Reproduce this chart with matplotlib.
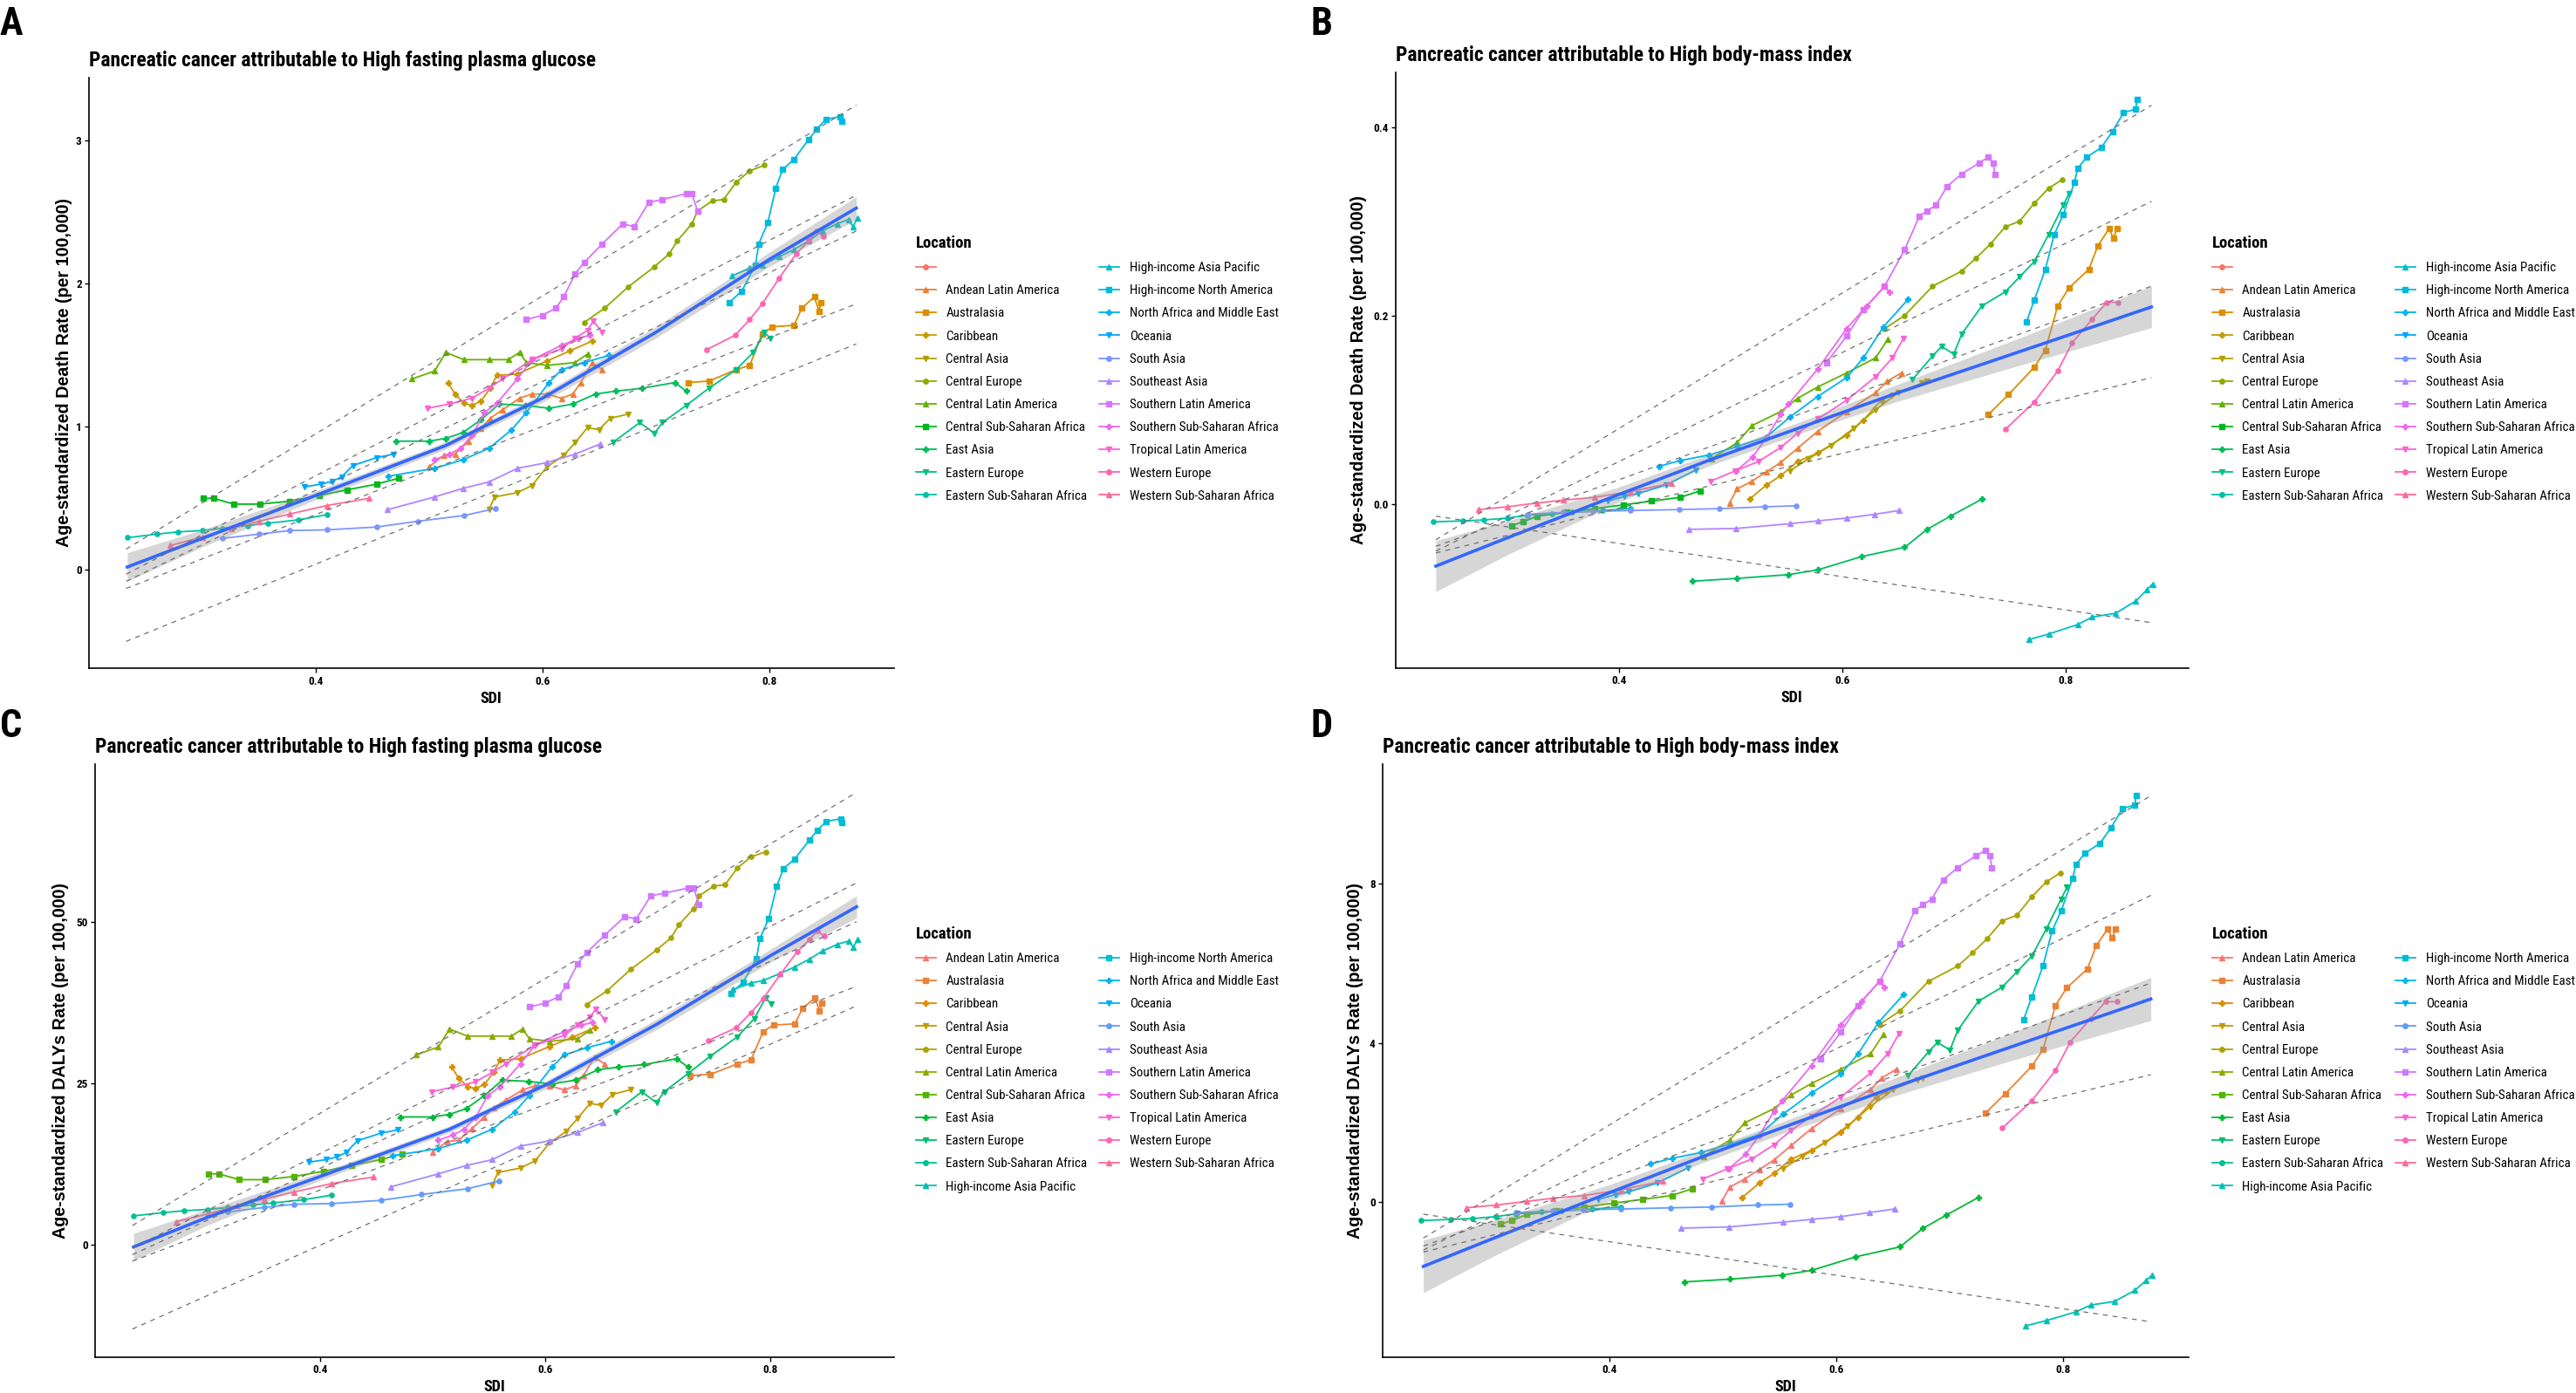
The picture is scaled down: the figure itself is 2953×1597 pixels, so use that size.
import numpy as np
import matplotlib
matplotlib.use("Agg")
import matplotlib.pyplot as plt
import matplotlib.font_manager as fm
from matplotlib.lines import Line2D

# ---- data (SDI, value) ----
regions = ["Andean Latin America", "Australasia", "Caribbean", "Central Asia", "Central Europe",
           "Central Latin America", "Central Sub-Saharan Africa", "East Asia", "Eastern Europe",
           "Eastern Sub-Saharan Africa", "High-income Asia Pacific", "High-income North America",
           "North Africa and Middle East", "Oceania", "South Asia", "Southeast Asia",
           "Southern Latin America", "Southern Sub-Saharan Africa", "Tropical Latin America",
           "Western Europe", "Western Sub-Saharan Africa"]

death_fpg = {
    "Andean Latin America": ([0.500, 0.513, 0.523, 0.535, 0.546, 0.554, 0.565, 0.580, 0.591, 0.604, 0.617, 0.627, 0.634, 0.644, 0.653],
                             [0.72, 0.80, 0.81, 0.90, 0.99, 1.06, 1.12, 1.20, 1.23, 1.23, 1.20, 1.23, 1.31, 1.45, 1.40]),
    "Australasia": ([0.729, 0.747, 0.771, 0.783, 0.794, 0.803, 0.822, 0.829, 0.840, 0.844, 0.846],
                    [1.31, 1.32, 1.40, 1.43, 1.65, 1.70, 1.71, 1.83, 1.91, 1.81, 1.87]),
    "Caribbean": ([0.517, 0.523, 0.531, 0.538, 0.546, 0.554, 0.560, 0.578, 0.604, 0.624, 0.644],
                  [1.31, 1.23, 1.165, 1.15, 1.18, 1.27, 1.36, 1.37, 1.46, 1.53, 1.60]),
    "Central Asia": ([0.553, 0.558, 0.578, 0.591, 0.604, 0.619, 0.629, 0.640, 0.650, 0.660, 0.676],
                     [0.42, 0.51, 0.54, 0.59, 0.72, 0.80, 0.89, 0.995, 0.98, 1.06, 1.09]),
    "Central Europe": ([0.637, 0.655, 0.676, 0.699, 0.712, 0.719, 0.732, 0.737, 0.750, 0.760, 0.771, 0.783, 0.796],
                       [1.73, 1.83, 1.98, 2.12, 2.21, 2.30, 2.42, 2.51, 2.58, 2.59, 2.71, 2.79, 2.83]),
    "Central Latin America": ([0.485, 0.505, 0.515, 0.531, 0.553, 0.570, 0.580, 0.586, 0.604, 0.629, 0.640],
                              [1.335, 1.39, 1.52, 1.47, 1.47, 1.47, 1.52, 1.45, 1.43, 1.45, 1.51]),
    "Central Sub-Saharan Africa": ([0.301, 0.310, 0.328, 0.351, 0.377, 0.403, 0.428, 0.454, 0.473],
                                   [0.50, 0.50, 0.46, 0.46, 0.48, 0.52, 0.56, 0.60, 0.64]),
    "East Asia": ([0.471, 0.500, 0.515, 0.530, 0.546, 0.562, 0.585, 0.606, 0.627, 0.647, 0.665, 0.688, 0.717, 0.727],
                  [0.90, 0.90, 0.92, 0.96, 1.05, 1.16, 1.15, 1.13, 1.16, 1.23, 1.25, 1.27, 1.31, 1.25]),
    "Eastern Europe": ([0.663, 0.686, 0.699, 0.706, 0.727, 0.747, 0.771, 0.786, 0.796, 0.801],
                       [0.895, 1.03, 0.955, 1.03, 1.15, 1.27, 1.40, 1.52, 1.66, 1.62]),
    "Eastern Sub-Saharan Africa": ([0.234, 0.260, 0.279, 0.300, 0.318, 0.340, 0.358, 0.385, 0.410],
                                   [0.225, 0.25, 0.266, 0.275, 0.29, 0.31, 0.326, 0.35, 0.386]),
    "High-income Asia Pacific": ([0.767, 0.783, 0.794, 0.809, 0.822, 0.835, 0.847, 0.860, 0.870, 0.874, 0.878],
                                 [2.055, 2.11, 2.13, 2.19, 2.24, 2.30, 2.37, 2.42, 2.45, 2.40, 2.46]),
    "High-income North America": ([0.765, 0.776, 0.788, 0.791, 0.799, 0.806, 0.812, 0.822, 0.835, 0.842, 0.850, 0.863, 0.864],
                                  [1.87, 1.95, 2.13, 2.28, 2.43, 2.67, 2.80, 2.87, 3.01, 3.08, 3.15, 3.17, 3.14]),
    "North Africa and Middle East": ([0.464, 0.505, 0.530, 0.553, 0.573, 0.586, 0.606, 0.617, 0.637, 0.659],
                                     [0.655, 0.71, 0.77, 0.85, 0.98, 1.10, 1.31, 1.40, 1.45, 1.50]),
    "Oceania": ([0.390, 0.405, 0.415, 0.423, 0.433, 0.454, 0.469],
                [0.58, 0.60, 0.62, 0.65, 0.73, 0.785, 0.81]),
    "South Asia": ([0.318, 0.350, 0.377, 0.410, 0.454, 0.490, 0.531, 0.559],
                   [0.22, 0.25, 0.275, 0.28, 0.30, 0.34, 0.38, 0.43]),
    "Southeast Asia": ([0.463, 0.505, 0.530, 0.553, 0.578, 0.604, 0.629, 0.651],
                       [0.42, 0.51, 0.57, 0.615, 0.71, 0.75, 0.81, 0.88]),
    "Southern Latin America": ([0.586, 0.600, 0.612, 0.619, 0.629, 0.637, 0.653, 0.671, 0.681, 0.694, 0.706, 0.727, 0.732, 0.737],
                               [1.75, 1.78, 1.83, 1.91, 2.07, 2.15, 2.28, 2.42, 2.40, 2.57, 2.59, 2.63, 2.63, 2.51]),
    "Southern Sub-Saharan Africa": ([0.505, 0.518, 0.528, 0.538, 0.549, 0.560, 0.578, 0.591, 0.617, 0.632, 0.642],
                                    [0.77, 0.81, 0.85, 0.94, 1.10, 1.165, 1.335, 1.47, 1.57, 1.62, 1.64]),
    "Tropical Latin America": ([0.499, 0.518, 0.538, 0.553, 0.565, 0.591, 0.617, 0.629, 0.640, 0.645, 0.653],
                               [1.13, 1.16, 1.20, 1.27, 1.335, 1.47, 1.545, 1.62, 1.675, 1.74, 1.66]),
    "Western Europe": ([0.745, 0.770, 0.783, 0.794, 0.809, 0.824, 0.835, 0.842, 0.848],
                       [1.54, 1.64, 1.75, 1.86, 2.04, 2.21, 2.30, 2.37, 2.33]),
    "Western Sub-Saharan Africa": ([0.272, 0.300, 0.326, 0.350, 0.377, 0.410, 0.447],
                                   [0.17, 0.23, 0.29, 0.34, 0.39, 0.45, 0.50]),
}

daly_fpg = {
    "Andean Latin America": ([0.500, 0.513, 0.523, 0.535, 0.546, 0.554, 0.565, 0.580, 0.591, 0.604, 0.617, 0.627, 0.634, 0.644, 0.653],
                             [14.4, 16.0, 16.2, 18.0, 19.8, 21.2, 22.4, 24.0, 24.6, 24.6, 24.0, 24.6, 26.2, 29.0, 28.0]),
    "Australasia": ([0.729, 0.747, 0.771, 0.783, 0.794, 0.803, 0.822, 0.829, 0.840, 0.844, 0.846],
                    [26.2, 26.4, 28.0, 28.6, 33.0, 34.0, 34.2, 36.6, 38.2, 36.2, 37.4]),
    "Caribbean": ([0.517, 0.523, 0.531, 0.538, 0.546, 0.554, 0.560, 0.578, 0.604, 0.624, 0.644],
                  [27.5, 25.8, 24.5, 24.2, 24.8, 26.7, 28.6, 28.8, 30.7, 32.1, 33.6]),
    "Central Asia": ([0.553, 0.558, 0.578, 0.591, 0.604, 0.619, 0.629, 0.640, 0.650, 0.660, 0.676],
                     [9.2, 11.2, 11.9, 13.0, 15.8, 17.6, 19.6, 21.9, 21.6, 23.3, 24.0]),
    "Central Europe": ([0.637, 0.655, 0.676, 0.699, 0.712, 0.719, 0.732, 0.737, 0.750, 0.760, 0.771, 0.783, 0.796],
                       [37.2, 39.3, 42.6, 45.6, 47.5, 49.5, 52.0, 54.0, 55.5, 55.7, 58.3, 60.0, 60.8]),
    "Central Latin America": ([0.485, 0.505, 0.515, 0.531, 0.553, 0.570, 0.580, 0.586, 0.604, 0.629, 0.640],
                              [29.4, 30.6, 33.4, 32.3, 32.3, 32.3, 33.4, 31.9, 31.5, 31.9, 33.2]),
    "Central Sub-Saharan Africa": ([0.301, 0.310, 0.328, 0.351, 0.377, 0.403, 0.428, 0.454, 0.473],
                                   [11.0, 11.0, 10.1, 10.1, 10.6, 11.4, 12.3, 13.2, 14.1]),
    "East Asia": ([0.471, 0.500, 0.515, 0.530, 0.546, 0.562, 0.585, 0.606, 0.627, 0.647, 0.665, 0.688, 0.717, 0.727],
                  [19.8, 19.8, 20.2, 21.1, 23.1, 25.5, 25.3, 24.9, 25.5, 27.1, 27.5, 27.9, 28.8, 27.5]),
    "Eastern Europe": ([0.663, 0.686, 0.699, 0.706, 0.727, 0.747, 0.771, 0.786, 0.796, 0.801],
                       [20.6, 23.7, 22.0, 23.7, 26.5, 29.2, 32.2, 35.0, 38.2, 37.3]),
    "Eastern Sub-Saharan Africa": ([0.234, 0.260, 0.279, 0.300, 0.318, 0.340, 0.358, 0.385, 0.410],
                                   [4.5, 5.0, 5.3, 5.5, 5.8, 6.2, 6.5, 7.0, 7.7]),
    "High-income Asia Pacific": ([0.767, 0.783, 0.794, 0.809, 0.822, 0.835, 0.847, 0.860, 0.870, 0.874, 0.878],
                                 [39.5, 40.5, 40.9, 42.0, 43.0, 44.2, 45.5, 46.5, 47.0, 46.1, 47.2]),
    "High-income North America": ([0.765, 0.776, 0.788, 0.791, 0.799, 0.806, 0.812, 0.822, 0.835, 0.842, 0.850, 0.863, 0.864],
                                  [38.9, 40.6, 44.3, 47.4, 50.5, 55.5, 58.2, 59.7, 62.6, 64.1, 65.5, 65.9, 65.3]),
    "North Africa and Middle East": ([0.464, 0.505, 0.530, 0.553, 0.573, 0.586, 0.606, 0.617, 0.637, 0.659],
                                     [13.8, 14.9, 16.2, 17.9, 20.6, 23.1, 27.5, 29.4, 30.5, 31.5]),
    "Oceania": ([0.390, 0.405, 0.415, 0.423, 0.433, 0.454, 0.469],
                [12.8, 13.2, 13.6, 14.3, 16.1, 17.3, 17.8]),
    "South Asia": ([0.318, 0.350, 0.377, 0.410, 0.454, 0.490, 0.531, 0.559],
                   [5.1, 5.8, 6.3, 6.4, 6.9, 7.8, 8.7, 9.9]),
    "Southeast Asia": ([0.463, 0.505, 0.530, 0.553, 0.578, 0.604, 0.629, 0.651],
                       [9.0, 11.0, 12.3, 13.2, 15.3, 16.1, 17.4, 18.9]),
    "Southern Latin America": ([0.586, 0.600, 0.612, 0.619, 0.629, 0.637, 0.653, 0.671, 0.681, 0.694, 0.706, 0.727, 0.732, 0.737],
                               [36.8, 37.4, 38.4, 40.1, 43.5, 45.2, 47.9, 50.8, 50.4, 54.0, 54.4, 55.2, 55.2, 52.7]),
    "Southern Sub-Saharan Africa": ([0.505, 0.518, 0.528, 0.538, 0.549, 0.560, 0.578, 0.591, 0.617, 0.632, 0.642],
                                    [16.2, 17.0, 17.9, 19.7, 23.1, 24.5, 28.0, 30.9, 33.0, 34.0, 34.4]),
    "Tropical Latin America": ([0.499, 0.518, 0.538, 0.553, 0.565, 0.591, 0.617, 0.629, 0.640, 0.645, 0.653],
                               [23.7, 24.4, 25.2, 26.7, 28.0, 30.9, 32.4, 34.0, 35.2, 36.5, 34.9]),
    "Western Europe": ([0.745, 0.770, 0.783, 0.794, 0.809, 0.824, 0.835, 0.842, 0.848],
                       [31.6, 33.6, 35.9, 38.1, 41.8, 45.3, 47.2, 48.6, 47.8]),
    "Western Sub-Saharan Africa": ([0.272, 0.300, 0.326, 0.350, 0.377, 0.410, 0.447],
                                   [3.6, 4.8, 6.1, 7.1, 8.2, 9.5, 10.5]),
}

death_bmi = {
    "Andean Latin America": ([0.499, 0.506, 0.519, 0.532, 0.545, 0.560, 0.578, 0.604, 0.630, 0.640, 0.653],
                             [0.001, 0.016, 0.024, 0.034, 0.044, 0.059, 0.077, 0.098, 0.118, 0.130, 0.139]),
    "Australasia": ([0.731, 0.749, 0.772, 0.782, 0.793, 0.803, 0.821, 0.829, 0.839, 0.843, 0.846],
                    [0.095, 0.116, 0.145, 0.163, 0.210, 0.229, 0.249, 0.274, 0.292, 0.282, 0.292]),
    "Caribbean": ([0.517, 0.532, 0.545, 0.560, 0.578, 0.604, 0.619, 0.635, 0.644],
                  [0.005, 0.020, 0.030, 0.045, 0.054, 0.073, 0.089, 0.110, 0.115]),
    "Central Asia": ([0.553, 0.570, 0.590, 0.610, 0.630, 0.650, 0.671, 0.676],
                     [0.035, 0.048, 0.062, 0.080, 0.100, 0.118, 0.128, 0.130]),
    "Central Europe": ([0.638, 0.656, 0.681, 0.707, 0.720, 0.733, 0.746, 0.759, 0.772, 0.785, 0.797],
                       [0.186, 0.200, 0.231, 0.247, 0.261, 0.276, 0.294, 0.300, 0.319, 0.335, 0.344]),
    "Central Latin America": ([0.483, 0.506, 0.519, 0.545, 0.560, 0.578, 0.604, 0.630, 0.641],
                              [0.048, 0.065, 0.083, 0.098, 0.112, 0.124, 0.139, 0.155, 0.175]),
    "Central Sub-Saharan Africa": ([0.304, 0.314, 0.327, 0.353, 0.378, 0.404, 0.429, 0.455, 0.473],
                                   [-0.023, -0.019, -0.013, -0.009, -0.005, -0.001, 0.003, 0.007, 0.014]),
    "East Asia": ([0.466, 0.506, 0.552, 0.578, 0.617, 0.656, 0.676, 0.697, 0.725],
                  [-0.082, -0.079, -0.075, -0.070, -0.056, -0.046, -0.027, -0.013, 0.005]),
    "Eastern Europe": ([0.663, 0.681, 0.689, 0.700, 0.707, 0.725, 0.746, 0.759, 0.772, 0.785, 0.798, 0.803],
                       [0.132, 0.157, 0.167, 0.159, 0.180, 0.210, 0.225, 0.241, 0.257, 0.286, 0.317, 0.329]),
    "Eastern Sub-Saharan Africa": ([0.234, 0.260, 0.279, 0.300, 0.318, 0.340, 0.358, 0.385, 0.410],
                                   [-0.019, -0.018, -0.017, -0.015, -0.012, -0.010, -0.009, -0.007, -0.005]),
    "High-income Asia Pacific": ([0.767, 0.785, 0.811, 0.824, 0.845, 0.863, 0.873, 0.878],
                                 [-0.144, -0.138, -0.128, -0.120, -0.116, -0.103, -0.091, -0.085]),
    "High-income North America": ([0.765, 0.772, 0.782, 0.790, 0.798, 0.808, 0.811, 0.819, 0.832, 0.842, 0.852, 0.863, 0.864],
                                  [0.193, 0.216, 0.249, 0.286, 0.307, 0.341, 0.356, 0.368, 0.378, 0.395, 0.415, 0.419, 0.429]),
    "North Africa and Middle East": ([0.436, 0.455, 0.481, 0.506, 0.532, 0.553, 0.578, 0.604, 0.619, 0.637, 0.659],
                                     [0.040, 0.046, 0.052, 0.061, 0.071, 0.092, 0.114, 0.134, 0.155, 0.188, 0.217]),
    "Oceania": ([0.390, 0.405, 0.417, 0.442, 0.469],
                [0.003, 0.008, 0.011, 0.020, 0.036]),
    "South Asia": ([0.318, 0.350, 0.377, 0.410, 0.454, 0.490, 0.531, 0.559],
                   [-0.011, -0.009, -0.008, -0.007, -0.006, -0.005, -0.003, -0.002]),
    "Southeast Asia": ([0.463, 0.505, 0.553, 0.578, 0.604, 0.629, 0.651],
                       [-0.027, -0.026, -0.021, -0.018, -0.015, -0.011, -0.007]),
    "Southern Latin America": ([0.586, 0.604, 0.619, 0.638, 0.656, 0.669, 0.676, 0.684, 0.694, 0.707, 0.723, 0.731, 0.735, 0.737],
                               [0.150, 0.178, 0.206, 0.231, 0.270, 0.305, 0.311, 0.317, 0.337, 0.350, 0.362, 0.368, 0.362, 0.350]),
    "Southern Sub-Saharan Africa": ([0.505, 0.520, 0.532, 0.545, 0.552, 0.578, 0.604, 0.622, 0.638, 0.642],
                                    [0.035, 0.050, 0.070, 0.095, 0.106, 0.143, 0.186, 0.210, 0.231, 0.225]),
    "Tropical Latin America": ([0.482, 0.504, 0.525, 0.545, 0.560, 0.578, 0.604, 0.630, 0.645, 0.655],
                               [0.024, 0.035, 0.045, 0.060, 0.075, 0.090, 0.110, 0.135, 0.155, 0.176]),
    "Western Europe": ([0.746, 0.772, 0.793, 0.806, 0.824, 0.837, 0.847],
                       [0.079, 0.108, 0.141, 0.171, 0.196, 0.214, 0.214]),
    "Western Sub-Saharan Africa": ([0.274, 0.300, 0.327, 0.350, 0.378, 0.410, 0.447],
                                   [-0.006, -0.003, 0.001, 0.004, 0.007, 0.013, 0.022]),
}

daly_bmi = {
    "Andean Latin America": ([0.499, 0.506, 0.519, 0.532, 0.545, 0.560, 0.578, 0.604, 0.630, 0.640, 0.653],
                             [0.02, 0.38, 0.58, 0.82, 1.06, 1.42, 1.85, 2.35, 2.83, 3.12, 3.34]),
    "Australasia": ([0.731, 0.749, 0.772, 0.782, 0.793, 0.803, 0.821, 0.829, 0.839, 0.843, 0.846],
                    [2.23, 2.73, 3.41, 3.83, 4.94, 5.38, 5.85, 6.44, 6.86, 6.63, 6.86]),
    "Caribbean": ([0.517, 0.532, 0.545, 0.560, 0.578, 0.604, 0.619, 0.635, 0.644],
                  [0.12, 0.48, 0.72, 1.08, 1.30, 1.75, 2.14, 2.64, 2.76]),
    "Central Asia": ([0.553, 0.570, 0.590, 0.610, 0.630, 0.650, 0.671, 0.676],
                     [0.84, 1.15, 1.49, 1.92, 2.40, 2.83, 3.07, 3.12]),
    "Central Europe": ([0.638, 0.656, 0.681, 0.707, 0.720, 0.733, 0.746, 0.759, 0.772, 0.785, 0.797],
                       [4.46, 4.80, 5.54, 5.93, 6.26, 6.62, 7.06, 7.20, 7.66, 8.04, 8.26]),
    "Central Latin America": ([0.483, 0.506, 0.519, 0.545, 0.560, 0.578, 0.604, 0.630, 0.641],
                              [1.15, 1.56, 1.99, 2.35, 2.69, 2.98, 3.34, 3.72, 4.20]),
    "Central Sub-Saharan Africa": ([0.304, 0.314, 0.327, 0.353, 0.378, 0.404, 0.429, 0.455, 0.473],
                                   [-0.55, -0.46, -0.31, -0.22, -0.12, -0.02, 0.07, 0.17, 0.34]),
    "East Asia": ([0.466, 0.506, 0.552, 0.578, 0.617, 0.656, 0.676, 0.697, 0.725],
                  [-2.00, -1.93, -1.83, -1.71, -1.37, -1.12, -0.66, -0.32, 0.12]),
    "Eastern Europe": ([0.663, 0.681, 0.689, 0.700, 0.707, 0.725, 0.746, 0.759, 0.772, 0.785, 0.798, 0.803],
                       [3.17, 3.77, 4.01, 3.82, 4.32, 5.04, 5.40, 5.78, 6.17, 6.86, 7.61, 7.90]),
    "Eastern Sub-Saharan Africa": ([0.234, 0.260, 0.279, 0.300, 0.318, 0.340, 0.358, 0.385, 0.410],
                                   [-0.46, -0.43, -0.41, -0.36, -0.29, -0.24, -0.22, -0.17, -0.12]),
    "High-income Asia Pacific": ([0.767, 0.785, 0.811, 0.824, 0.845, 0.863, 0.873, 0.878],
                                 [-3.10, -2.97, -2.75, -2.58, -2.49, -2.21, -1.96, -1.83]),
    "High-income North America": ([0.765, 0.772, 0.782, 0.790, 0.798, 0.808, 0.811, 0.819, 0.832, 0.842, 0.852, 0.863, 0.864],
                                  [4.59, 5.14, 5.93, 6.81, 7.31, 8.12, 8.47, 8.76, 9.00, 9.40, 9.88, 9.97, 10.21]),
    "North Africa and Middle East": ([0.436, 0.455, 0.481, 0.506, 0.532, 0.553, 0.578, 0.604, 0.619, 0.637, 0.659],
                                     [0.96, 1.10, 1.25, 1.46, 1.70, 2.21, 2.74, 3.22, 3.72, 4.51, 5.21]),
    "Oceania": ([0.390, 0.405, 0.417, 0.442, 0.469],
                [0.07, 0.19, 0.26, 0.48, 0.86]),
    "South Asia": ([0.318, 0.350, 0.377, 0.410, 0.454, 0.490, 0.531, 0.559],
                   [-0.26, -0.22, -0.19, -0.17, -0.14, -0.12, -0.07, -0.05]),
    "Southeast Asia": ([0.463, 0.505, 0.553, 0.578, 0.604, 0.629, 0.651],
                       [-0.65, -0.62, -0.50, -0.43, -0.36, -0.26, -0.17]),
    "Southern Latin America": ([0.586, 0.604, 0.619, 0.638, 0.656, 0.669, 0.676, 0.684, 0.694, 0.707, 0.723, 0.731, 0.735, 0.737],
                               [3.60, 4.27, 4.94, 5.54, 6.48, 7.32, 7.46, 7.61, 8.09, 8.40, 8.69, 8.83, 8.69, 8.40]),
    "Southern Sub-Saharan Africa": ([0.505, 0.520, 0.532, 0.545, 0.552, 0.578, 0.604, 0.622, 0.638, 0.642],
                                    [0.84, 1.20, 1.68, 2.28, 2.54, 3.43, 4.46, 5.04, 5.54, 5.40]),
    "Tropical Latin America": ([0.482, 0.504, 0.525, 0.545, 0.560, 0.578, 0.604, 0.630, 0.645, 0.655],
                               [0.58, 0.84, 1.08, 1.44, 1.80, 2.16, 2.64, 3.24, 3.72, 4.22]),
    "Western Europe": ([0.746, 0.772, 0.793, 0.806, 0.824, 0.837, 0.847],
                       [1.86, 2.54, 3.31, 4.02, 4.61, 5.03, 5.03]),
    "Western Sub-Saharan Africa": ([0.274, 0.300, 0.327, 0.350, 0.378, 0.410, 0.447],
                                   [-0.14, -0.07, 0.02, 0.10, 0.17, 0.31, 0.53]),
}

# smoothed fit (blue) and its band half width
fit_x_fpg = [0.234, 0.30, 0.40, 0.515, 0.553, 0.60, 0.70, 0.80, 0.877]
fit_death_fpg = [0.02, 0.22, 0.52, 0.87, 1.02, 1.20, 1.66, 2.17, 2.53]
se_death_fpg = [0.10, 0.06, 0.03, 0.025, 0.025, 0.03, 0.04, 0.05, 0.08]
fit_daly_fpg = [-0.3, 4.3, 10.6, 17.9, 21.0, 24.7, 34.2, 44.7, 52.3]
se_daly_fpg = [2.1, 1.2, 0.6, 0.5, 0.5, 0.6, 0.8, 1.0, 1.7]

fit_x_bmi = [0.236, 0.30, 0.40, 0.48, 0.56, 0.65, 0.75, 0.877]
fit_death_bmi = [-0.066, -0.036, 0.01, 0.046, 0.08, 0.118, 0.158, 0.209]
se_death_bmi = [0.027, 0.018, 0.008, 0.006, 0.006, 0.009, 0.014, 0.022]
fit_daly_bmi = [-1.61, -0.88, 0.24, 1.12, 1.95, 2.88, 3.86, 5.10]
se_daly_bmi = [0.66, 0.44, 0.20, 0.15, 0.15, 0.22, 0.34, 0.54]

# grey dashed lines: (x0, y0, x1, y1)
dash_death_fpg = [(0.233, 0.145, 0.877, 3.25), (0.233, -0.03, 0.877, 2.62), (0.233, -0.08, 0.877, 2.37),
                  (0.233, -0.13, 0.877, 1.86), (0.233, -0.50, 0.877, 1.58)]
dash_daly_fpg = [(0.233, 3.0, 0.877, 70.0), (0.233, -0.5, 0.877, 56.0), (0.233, -1.5, 0.877, 50.0),
                 (0.233, -2.5, 0.877, 40.0), (0.233, -13.0, 0.877, 37.0)]
dash_death_bmi = [(0.236, -0.038, 0.877, 0.423), (0.236, -0.05, 0.877, 0.321), (0.236, -0.045, 0.877, 0.231),
                  (0.236, -0.052, 0.877, 0.134), (0.236, -0.013, 0.877, -0.126)]
dash_daly_bmi = [(0.236, -0.9, 0.877, 10.2), (0.236, -1.2, 0.877, 7.7), (0.236, -1.1, 0.877, 5.5),
                 (0.236, -1.25, 0.877, 3.2), (0.236, -0.3, 0.877, -3.0)]

# ---- fonts ----
names = set(f.name for f in fm.fontManager.ttflist)
narrow = "Liberation Sans"
for cand in ["Liberation Sans Narrow", "Arial Narrow", "Roboto Condensed", "DejaVu Sans Condensed"]:
    if cand in names:
        narrow = cand
        break
wide = "Liberation Sans" if "Liberation Sans" in names else "DejaVu Sans"


def hue_pal(n):
    # ggplot2 default hue palette (HCL, c=100, l=65)
    cols = []
    for h in np.linspace(15, 375, n + 1)[:-1]:
        L, C = 65.0, 100.0
        U = C * np.cos(np.deg2rad(h))
        V = C * np.sin(np.deg2rad(h))
        Xn, Yn, Zn = 95.047, 100.0, 108.883
        un = 4 * Xn / (Xn + 15 * Yn + 3 * Zn)
        vn = 9 * Yn / (Xn + 15 * Yn + 3 * Zn)
        Y = Yn * ((L + 16) / 116) ** 3
        u = U / (13 * L) + un
        v = V / (13 * L) + vn
        X = 9 * Y * u / (4 * v)
        Z = -X / 3 - 5 * Y + 3 * Y / v
        X, Y, Z = X / 100, Y / 100, Z / 100
        rgb = [3.2404542 * X - 1.5371385 * Y - 0.4985314 * Z,
               -0.9692660 * X + 1.8760108 * Y + 0.0415560 * Z,
               0.0556434 * X - 0.2040259 * Y + 1.0572252 * Z]
        out = []
        for c in rgb:
            c = 12.92 * c if c <= 0.0031308 else 1.055 * c ** (1 / 2.4) - 0.055
            out.append(min(max(c, 0), 1))
        cols.append(tuple(out))
    return cols


shapes = ["o", "^", "s", "P", "v"]
W, H = 2953, 1597
fig = plt.figure(figsize=(W / 100, H / 100), dpi=100)


def panel(rect, data, levels, fit_x, fit_y, fit_se, dashes, ylim, yticks, yticklabels,
          ylabel, title, letter, letter_xy, ylabel_x, leg_xy):
    ax = fig.add_axes(rect)
    cols = hue_pal(len(levels))
    handles = []
    for i, lev in enumerate(levels):
        mk = shapes[(regions.index(lev) + 1) % 5] if lev in regions else "o"
        if lev in data:
            xs, ys = data[lev]
            ax.plot(xs, ys, color=cols[i], marker=mk, ms=3.8, lw=1.3, zorder=2)
        handles.append(Line2D([], [], color=cols[i], marker=mk, ms=4, lw=1.3))
    lo = np.array(fit_y) - np.array(fit_se)
    hi = np.array(fit_y) + np.array(fit_se)
    ax.fill_between(fit_x, lo, hi, color="#999999", alpha=0.4, lw=0, zorder=3)
    ax.plot(fit_x, fit_y, color="#3366FF", lw=2.6, zorder=4)
    for x0, y0, x1, y1 in dashes:
        ax.plot([x0, x1], [y0, y1], color="#707070", lw=0.9, ls=(0, (4.5, 4.5)), zorder=5)

    ax.set_xlim(0.2, 0.91)
    ax.set_ylim(*ylim)
    ax.set_xticks([0.4, 0.6, 0.8])
    ax.set_xticklabels(["0.4", "0.6", "0.8"])
    ax.set_yticks(yticks)
    ax.set_yticklabels(yticklabels)
    for s in ["top", "right"]:
        ax.spines[s].set_visible(False)
    for s in ["left", "bottom"]:
        ax.spines[s].set_linewidth(1.2)
    ax.tick_params(length=3.6, width=1.0, pad=2.2, labelsize=9.5)
    for t in ax.get_xticklabels() + ax.get_yticklabels():
        t.set_fontfamily(narrow)
        t.set_fontweight("bold")
    ax.set_xlabel("SDI", fontsize=13, fontweight="bold", family=narrow, labelpad=3)

    cy = rect[1] + rect[3] / 2
    fig.text(ylabel_x, cy, ylabel, rotation=90, ha="center", va="center",
             fontsize=14.2, fontweight="bold", family=wide)
    # title sits 13 px above the panel top, aligned with the panel's left edge
    fig.text(rect[0], rect[1] + rect[3] + 13 / H, title, ha="left", va="baseline",
             fontsize=16.9, fontweight="bold", family=narrow)
    fig.text(letter_xy[0], letter_xy[1], letter, ha="left", va="baseline",
             fontsize=32, fontweight="bold", family=narrow)

    ax.legend(handles, levels, loc="upper left", bbox_to_anchor=leg_xy,
              bbox_transform=fig.transFigure, ncol=2, frameon=False,
              title="Location", alignment="left",
              prop=fm.FontProperties(family=narrow, size=10.8),
              title_fontproperties=fm.FontProperties(family=narrow, weight="bold", size=13.5),
              handlelength=1.5, handletextpad=0.8, columnspacing=0.9,
              labelspacing=0.81, borderpad=0, borderaxespad=0)
    return ax


levels22 = [""] + regions
ylab_death = "Age-standardized Death Rate (per 100,000)"
ylab_daly = "Age-standardized DALYs Rate (per 100,000)"

axA = panel([54 / 1568, 1 - 407 / 848, 490 / 1568, 360 / 848], death_fpg, levels22,
            fit_x_fpg, fit_death_fpg, se_death_fpg, dash_death_fpg,
            (-0.69, 3.445), [0, 1, 2, 3], ["0", "1", "2", "3"], ylab_death,
            "Pancreatic cancer attributable to High fasting plasma glucose",
            "A", (0.0, 1 - 40 / H), 39 / 1568, (1050 / W, 1 - 270 / H))

axB = panel([849.5 / 1568, 1 - 406.6 / 848, 482.5 / 1568, 362.6 / 848], death_bmi, levels22,
            fit_x_bmi, fit_death_bmi, se_death_bmi, dash_death_bmi,
            (-0.174, 0.458), [0.0, 0.2, 0.4], ["0.0", "0.2", "0.4"], ylab_death,
            "Pancreatic cancer attributable to High body-mass index",
            "B", (1502 / W, 1 - 40 / H), 827 / 1568, (2536 / W, 1 - 270 / H))

axC = panel([58 / 1568, 1 - 826 / 848, 486 / 1568, 361 / 848], daly_fpg, regions,
            fit_x_fpg, fit_daly_fpg, se_daly_fpg, dash_daly_fpg,
            (-17.3, 74.4), [0, 25, 50], ["0", "25", "50"], ylab_daly,
            "Pancreatic cancer attributable to High fasting plasma glucose",
            "C", (0.0, 1 - 845 / H), 37 / 1568, (1050 / W, 1 - 1062 / H))

axD = panel([841.5 / 1568, 1 - 826 / 848, 490.5 / 1568, 361 / 848], daly_bmi, regions,
            fit_x_bmi, fit_daly_bmi, se_daly_bmi, dash_daly_bmi,
            (-3.88, 11.0), [0, 4, 8], ["0", "4", "8"], ylab_daly,
            "Pancreatic cancer attributable to High body-mass index",
            "D", (1502 / W, 1 - 845 / H), 825 / 1568, (2536 / W, 1 - 1062 / H))

fig.savefig("out.png", dpi=100, facecolor="white")
